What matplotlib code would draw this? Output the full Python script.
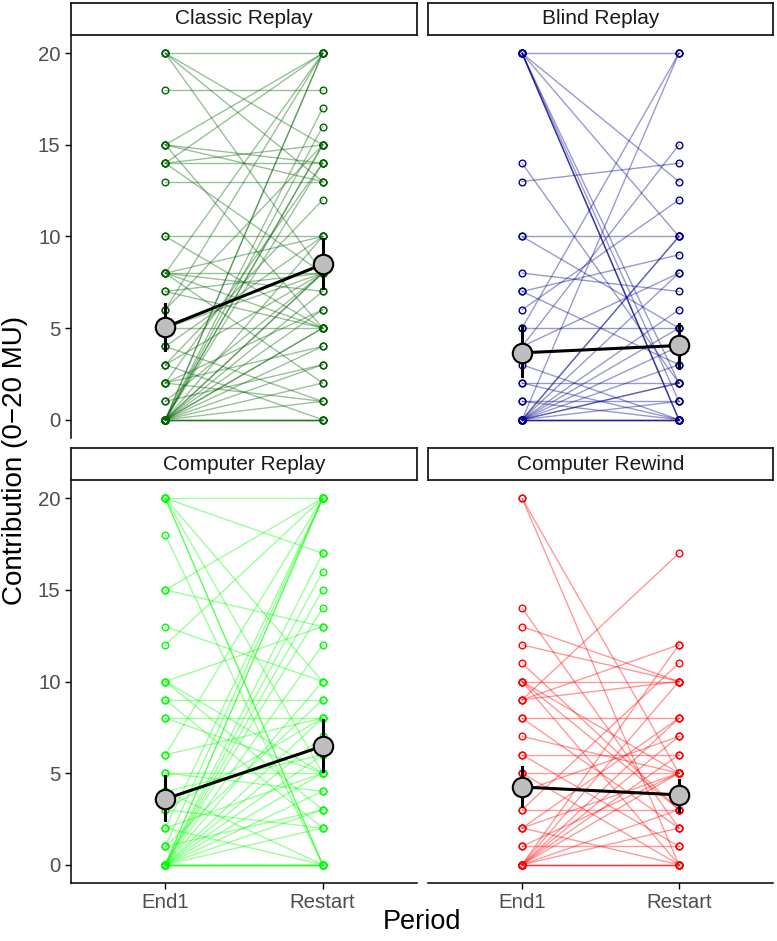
import matplotlib
matplotlib.use('Agg')
import matplotlib.pyplot as plt

plt.rcParams['font.family'] = ['Liberation Sans', 'DejaVu Sans']

periods = ['End1', 'Restart']
panel_titles = ['Classic Replay', 'Blind Replay', 'Computer Replay', 'Computer Rewind']
panel_colors = ['#006400', '#00008B', '#00FF00', '#FF0000']

# paired contributions (End1, Restart) per participant
classic_end1 = [20, 20, 20, 20, 18, 15, 15, 15, 15, 14, 14, 14, 14, 13, 10, 10,
                8, 8, 8, 8, 8, 8, 7, 7, 6, 6, 5, 5, 4, 4, 3, 3, 3, 2, 2, 2, 2, 1, 1,
                0, 0, 0, 0, 0, 0, 0, 0, 0, 0, 0, 0, 0, 0, 0, 0, 0, 0, 0, 0, 0, 0]
classic_restart = [20, 15, 13, 8, 18, 20, 14, 13, 5, 20, 15, 14, 8, 13, 10, 5,
                   8, 10, 5, 2, 7, 20, 5, 8, 20, 15, 5, 8, 1, 10, 12, 0, 8, 4, 6, 14, 1, 3, 8,
                   0, 0, 0, 20, 20, 17, 16, 15, 15, 10, 8, 8, 7, 5, 4, 3, 2, 6, 14, 5, 0, 1]

blind_end1 = [20, 20, 20, 20, 20, 20, 20, 20, 14, 13, 10, 10, 8, 7, 7, 6, 5, 5,
              4, 4, 3, 2, 2, 1, 1, 0, 0, 0, 0, 0, 0, 0, 0, 0, 0, 0, 0, 0, 0, 0]
blind_restart = [20, 0, 0, 0, 1, 2, 13, 10, 2, 14, 10, 5, 7, 9, 3, 12, 5, 20,
                 8, 15, 0, 2, 0, 1, 0, 0, 0, 0, 10, 10, 8, 6, 5, 4, 3, 2, 2, 1, 20, 0]

creplay_end1 = [20, 20, 20, 20, 20, 20, 18, 15, 15, 13, 12, 10, 10, 10, 9, 9, 8, 8,
                6, 6, 5, 5, 4, 4, 3, 3, 2, 2, 2, 1, 1, 1,
                0, 0, 0, 0, 0, 0, 0, 0, 0, 0, 0, 0, 0, 0, 0, 0, 0, 0, 0, 0]
creplay_restart = [20, 17, 10, 0, 0, 5, 0, 20, 13, 10, 20, 13, 5, 3, 9, 2, 8, 5,
                   20, 8, 5, 4, 6, 0, 8, 2, 20, 5, 0, 20, 9, 3,
                   0, 0, 0, 0, 20, 20, 16, 15, 14, 12, 10, 8, 7, 6, 5, 4, 3, 2, 17, 0]

crewind_end1 = [20, 20, 14, 13, 12, 11, 10, 10, 10, 10, 9, 9, 9, 8, 8, 7, 6, 6, 5, 5,
                4, 3, 3, 2, 2, 2, 1, 1, 0, 0, 0, 0, 0, 0, 0, 0, 0, 0, 0]
crewind_restart = [0, 5, 2, 10, 10, 3, 10, 5, 0, 3, 10, 12, 17, 8, 2, 5, 6, 1, 5, 0,
                   7, 3, 11, 8, 5, 0, 1, 5, 0, 0, 0, 12, 10, 8, 7, 6, 5, 3, 2]

end1_data = [classic_end1, blind_end1, creplay_end1, crewind_end1]
restart_data = [classic_restart, blind_restart, creplay_restart, crewind_restart]

# group means and 95% CI bounds
mean_end1 = [5.05, 3.65, 3.59, 4.24]
mean_restart = [8.48, 4.05, 6.47, 3.81]
ci_low_end1 = [3.83, 2.40, 2.46, 3.19]
ci_high_end1 = [6.33, 5.14, 4.86, 5.34]
ci_low_restart = [7.20, 2.83, 5.10, 2.91]
ci_high_restart = [9.85, 5.20, 7.92, 4.64]

W, H = 777, 941
fig = plt.figure(figsize=(W / 100, H / 100), dpi=100)

# panel boxes in pixels: (left, top, right, bottom)
panel_px = [(71, 35, 417, 438), (428, 35, 773, 438),
            (71, 480, 417, 883), (428, 480, 773, 883)]
strip_h = 32

tick_color = '#4D4D4D'
for i in range(4):
    l, t, r, b = panel_px[i]
    ax = fig.add_axes([l / W, 1 - b / H, (r - l) / W, (b - t) / H])
    col = panel_colors[i]
    e1 = end1_data[i]
    rs = restart_data[i]
    for a, c in zip(e1, rs):
        ax.plot([1, 2], [a, c], color=col, alpha=0.4, lw=1.0, zorder=1)
    ax.plot([1] * len(e1), e1, 'o', mfc='none', mec=col, ms=4.8, mew=1.0, zorder=2)
    ax.plot([2] * len(rs), rs, 'o', mfc='none', mec=col, ms=4.8, mew=1.0, zorder=2)

    # error bars and means
    ax.plot([1, 1], [ci_low_end1[i], ci_high_end1[i]], color='black', lw=2.2, zorder=3)
    ax.plot([2, 2], [ci_low_restart[i], ci_high_restart[i]], color='black', lw=2.2, zorder=3)
    ax.plot([1, 2], [mean_end1[i], mean_restart[i]], color='black', lw=2.2, zorder=4)
    ax.plot([1, 2], [mean_end1[i], mean_restart[i]], 'o', mfc='#BEBEBE', mec='black',
            ms=14, mew=1.5, zorder=5)

    ax.set_xlim(0.4, 2.6)
    ax.set_ylim(-1, 21)
    for s in ['top', 'right']:
        ax.spines[s].set_visible(False)
    ax.spines['left'].set_visible(i % 2 == 0)
    ax.spines['bottom'].set_visible(i >= 2)
    for s in ['left', 'bottom']:
        ax.spines[s].set_linewidth(1.1)
    ax.tick_params(colors=tick_color, labelsize=14.7, length=4, width=1.0)
    ax.set_yticks([0, 5, 10, 15, 20])
    ax.set_xticks([1, 2])
    if i % 2 == 0:
        ax.tick_params(axis='y', colors='black', labelcolor=tick_color)
    else:
        ax.tick_params(axis='y', left=False, labelleft=False)
    if i >= 2:
        ax.set_xticklabels(periods)
        ax.tick_params(axis='x', colors='black', labelcolor=tick_color)
    else:
        ax.tick_params(axis='x', bottom=False, labelbottom=False)

    # facet strip
    sax = fig.add_axes([l / W, 1 - t / H, (r - l) / W, strip_h / H])
    sax.set_xticks([])
    sax.set_yticks([])
    for s in sax.spines.values():
        s.set_linewidth(1.3)
        s.set_color('#1A1A1A')
    sax.text(0.5, 0.5, panel_titles[i], ha='center', va='center', fontsize=15,
             color='#1A1A1A', transform=sax.transAxes)

fig.text(422 / W, 1 - 922 / H, 'Period', ha='center', va='center', fontsize=19.5)
fig.text(15 / W, 1 - 460 / H, 'Contribution (0\u221220 MU)', ha='center', va='center',
         rotation=90, fontsize=20)

fig.savefig('out.png', dpi=100)
